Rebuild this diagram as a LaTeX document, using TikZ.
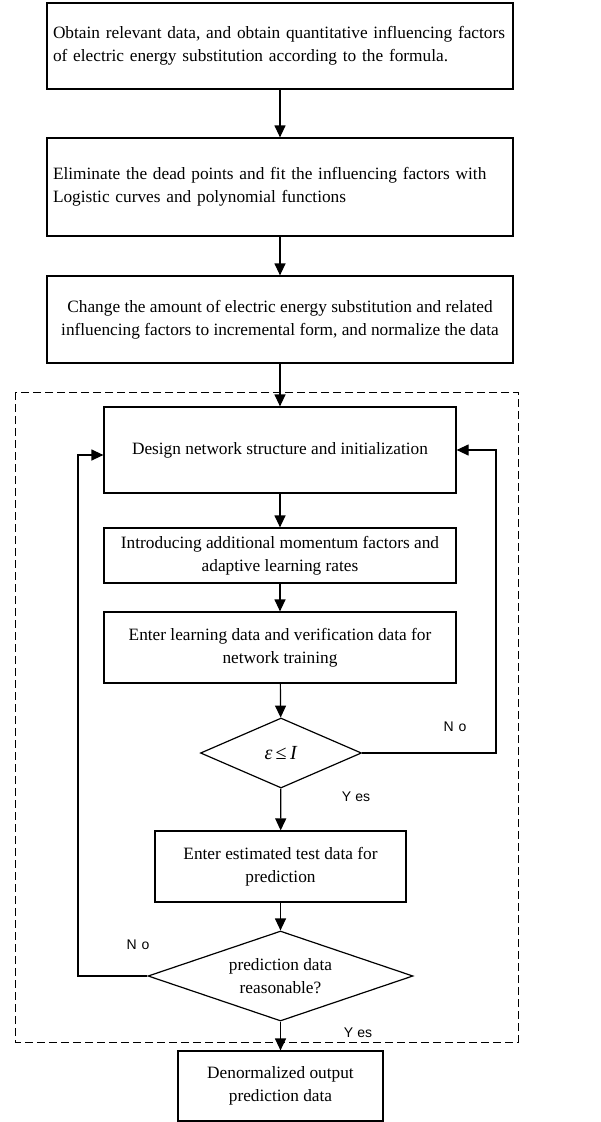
\documentclass[tikz,border=0pt]{standalone}
\usepackage{fontspec}
\setmainfont{Liberation Serif}
\newfontfamily\lblfont{Liberation Sans}
\usetikzlibrary{shapes.geometric,arrows.meta}
\begin{document}
\begin{tikzpicture}[x=1pt,y=-1pt,
  box/.style={draw,line width=1.2pt,inner sep=0pt,font=\fontsize{17.3}{23}\selectfont},
  dec/.style={draw,diamond,line width=1.2pt,inner sep=0pt,font=\fontsize{17.3}{23}\selectfont},
  arr/.style={-{Triangle[length=12pt,width=11pt]},line width=1.2pt},
  lbl/.style={font=\lblfont\fontsize{14}{16}\selectfont}]
\useasboundingbox (0,0) rectangle (600,1122);
\node[box,minimum width=466,minimum height=86,text width=454,align=left] (b1) at (280,46)
  {Obtain relevant data, and obtain quantitative influencing factors\\of electric energy substitution according to the formula.};
\node[box,minimum width=466,minimum height=98,text width=454,align=left] (b2) at (280,187)
  {Eliminate the dead points and fit the influencing factors with\\Logistic curves and polynomial functions};
\node[box,minimum width=466,minimum height=87,align=center] (b3) at (280,319.5)
  {Change the amount of electric energy substitution and related\\influencing factors to incremental form, and normalize the data};
\draw[dashed,dash pattern=on 8pt off 4pt,line width=1pt] (15,392) rectangle (518,1042);
\node[box,minimum width=352,minimum height=86,align=center] (b4) at (280,450)
  {Design network structure and initialization};
\node[box,minimum width=352,minimum height=55,align=center] (b5) at (280,555.5)
  {Introducing additional momentum factors and\\adaptive learning rates};
\node[box,minimum width=352,minimum height=71,align=center] (b6) at (280,647.5)
  {Enter learning data and verification data for\\network training};
\node[dec,aspect=2.3,minimum width=161,minimum height=70] (d1) at (281,753)
  {\fontsize{20}{22}\selectfont\textit{ε}\,≤\,\textit{I}};
\node[box,minimum width=251,minimum height=71,align=center] (b7) at (280.5,866.5)
  {Enter estimated test data for\\prediction};
\node[dec,aspect=2.94,minimum width=265,minimum height=90,align=center] (d2) at (280.5,976)
  {prediction data\\reasonable?};
\node[box,minimum width=205,minimum height=70,align=center] (b8) at (280.5,1086)
  {Denormalized output\\prediction data};
\draw[arr] (b1) -- (b2);
\draw[arr] (b2) -- (b3);
\draw[arr] (b3) -- (b4);
\draw[arr] (b4) -- (b5);
\draw[arr] (b5) -- (b6);
\draw[arr] (b6) -- (d1);
\draw[arr] (d1) -- (b7);
\draw[arr] (b7) -- (d2);
\draw[arr] (d2) -- (b8);
\coordinate (rl) at (496,450);
\coordinate (ll) at (78,455);
\draw[arr] (d1.east) -| (rl) -- (b4.east |- rl);
\draw[arr] (d2.west) -| (ll) -- (b4.west |- ll);
\node[lbl] (no1) at (455,727) {N\hspace{5pt}o};
\node[lbl] (yes1) at (356,797) {Y\hspace{4pt}es};
\node[lbl] (no2) at (138,945) {N\hspace{5pt}o};
\node[lbl] (yes2) at (358,1033) {Y\hspace{4pt}es};
\end{tikzpicture}
\end{document}
